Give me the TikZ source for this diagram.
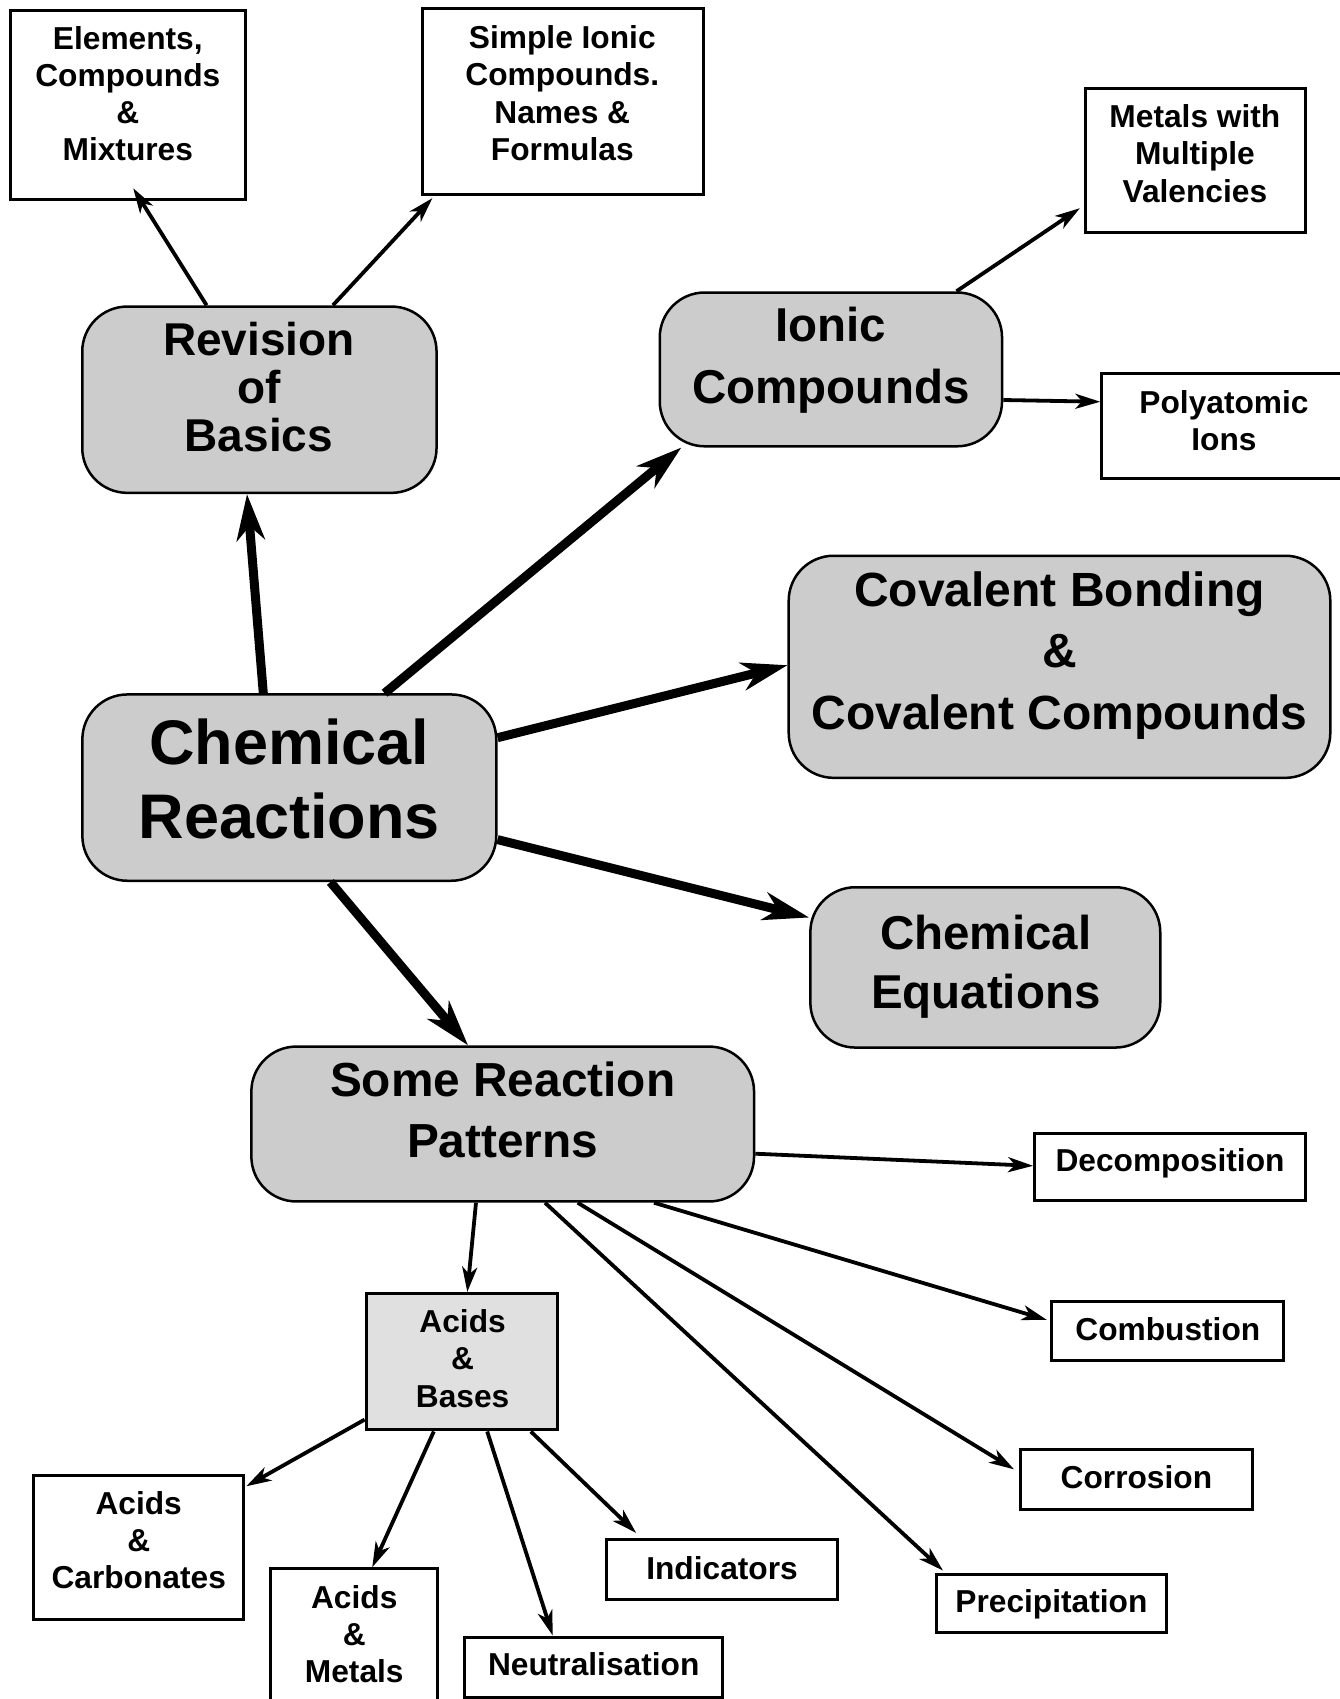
\documentclass[tikz,border=0pt]{standalone}
\usepackage{fontspec}
\setmainfont{Liberation Sans}
\usetikzlibrary{arrows.meta,calc}
\definecolor{boxgray}{gray}{0.8}
\definecolor{lightbox}{gray}{0.88}

\begin{document}
\begin{tikzpicture}[x=1pt,y=-1pt,
  rbox/.style={draw=black, line width=2.5pt, fill=boxgray, rounded corners=45pt, inner sep=0pt},
  sbox/.style={draw=black, line width=3pt, fill=white, inner sep=0pt},
  abox/.style={sbox, fill=lightbox},
  txt/.style 2 args={align=center, inner sep=0pt, font=\bfseries\fontsize{#1}{#2}\selectfont},
  small/.style={txt={31.7}{37.2}},
  bigarrow/.style={line width=9pt, -{Stealth[length=46pt,width=28pt,inset=14pt]}},
  thinarrow/.style={line width=3.8pt, -{Stealth[length=25pt,width=15pt,inset=7pt]}},
]
\useasboundingbox (0,0) rectangle (1339,1699);

% ---- main topic boxes
\node[rbox, minimum width=413.9pt, minimum height=186.3pt] (cr)    at (289.3,787.6) {};
\node[rbox, minimum width=354.3pt, minimum height=186.3pt] (rev)   at (259.4,399.7) {};
\node[rbox, minimum width=342.3pt, minimum height=153.8pt] (ionic) at (830.9,369.4) {};
\node[rbox, minimum width=541.6pt, minimum height=222.1pt] (cov)   at (1059.5,666.8) {};
\node[rbox, minimum width=349.9pt, minimum height=160.3pt] (eq)    at (985.3,967.4) {};
\node[rbox, minimum width=502.7pt, minimum height=154.9pt] (pat)   at (502.7,1124) {};

\node[txt={63}{73.7}]   (cr-t)    at (289.2,778.9) {Chemical\\Reactions};
\node[txt={46}{48}]     (rev-t)   at (258.9,387.3) {Revision\\of\\Basics};
\node[txt={47.5}{61.75}] (ionic-t) at (830.9,360.4) {Ionic\\Compounds};
\node[txt={48}{61.75}]  (cov-t)   at (1059.5,655.5) {Covalent Bonding\\\&\\Covalent Compounds};
\node[txt={47.5}{58.5}] (eq-t)    at (985.8,966.5) {Chemical\\Equations};
\node[txt={47.8}{61.75}] (pat-t)  at (502.7,1109.9) {Some Reaction\\Patterns};

% ---- sub-topic boxes
\node[sbox, minimum width=235pt,   minimum height=188.5pt] (elem)  at (128.4,105) {};
\node[sbox, minimum width=280.6pt, minimum height=186.3pt] (simp)  at (562.8,101.8) {};
\node[sbox, minimum width=220pt,   minimum height=144pt]   (metal) at (1195.4,160.9) {};
\node[sbox, minimum width=243.2pt, minimum height=105pt]   (poly)  at (1223.4,426.25) {};
\node[sbox, minimum width=270.8pt, minimum height=67.1pt]  (dec)   at (1170,1166.8) {};
\node[sbox, minimum width=231.8pt, minimum height=59.6pt]  (comb)  at (1167.8,1330.9) {};
\node[sbox, minimum width=231.8pt, minimum height=59.6pt]  (corr)  at (1136.4,1479.3) {};
\node[sbox, minimum width=230.8pt, minimum height=58.5pt]  (prec)  at (1051.4,1603.3) {};
\node[sbox, minimum width=230.7pt, minimum height=59.6pt]  (ind)   at (722,1569.2) {};
\node[sbox, minimum width=257.8pt, minimum height=60pt]    (neut)  at (593.7,1667) {};
\node[sbox, minimum width=166.9pt, minimum height=141.3pt] (am)    at (354.25,1639.35) {};
\node[sbox, minimum width=210.2pt, minimum height=144.1pt] (ac)    at (138.7,1547.5) {};
\node[abox, minimum width=191.7pt, minimum height=136.5pt] (ab)    at (462,1361.7) {};

\node[small] (elem-t)  at (127.8,93.7)   {Elements,\\Compounds\\\&\\Mixtures};
\node[small] (simp-t)  at (562.3,93.2)   {Simple Ionic\\Compounds.\\Names \&\\Formulas};
\node[small] (metal-t) at (1194.9,153.5) {Metals with\\Multiple\\Valencies};
\node[small] (poly-t)  at (1224,420.3)   {Polyatomic\\Ions};
\node[small] (dec-t)   at (1170,1163.6)  {Decomposition};
\node[small] (comb-t)  at (1167.8,1329.3) {Combustion};
\node[small] (corr-t)  at (1136.4,1477.6) {Corrosion};
\node[small] (prec-t)  at (1051.4,1604.5) {Precipitation};
\node[small] (ind-t)   at (722,1568.6)   {Indicators};
\node[small] (neut-t)  at (593.7,1664)   {Neutralisation};
\node[small] (am-t)    at (354.25,1634.2) {Acids\\\&\\Metals};
\node[small] (ac-t)    at (138.7,1539.9) {Acids\\\&\\Carbonates};
\node[small] (ab-t)    at (462.6,1358.5) {Acids\\\&\\Bases};

% ---- thick connectors from the central topic
\draw[bigarrow] ($(cr.north)+(-26,0)$) -- ($(rev.south)+(-12.4,0)$);
\draw[bigarrow] ($(cr.north)+(95.3,0)$) -- ($(ionic.south west)+(22.8,0)$);
\draw[bigarrow] ($(cr.east)+(0,-49.9)$) -- ($(cov.west)+(0,-1.6)$);
\draw[bigarrow] ($(cr.east)+(0,52)$) -- ($(eq.north west)+(0,31.5)$);
\draw[bigarrow] ($(cr.south)+(41.1,0)$) -- ($(pat.north)+(-34.7,0)$);

% ---- thin connectors
\draw[thinarrow] ($(rev.north)+(-52.8,0)$) -- ($(elem.south)+(4.8,-12.5)$);
\draw[thinarrow] ($(rev.north)+(73.5,0)$) -- ($(simp.south west)+(11.4,1.7)$);
\draw[thinarrow] ($(ionic.north)+(125.6,0)$) -- ($(metal.south west)+(-4,-26.2)$);
\draw[thinarrow] ($(ionic.east)+(0,30.6)$) -- ($(poly.west)+(0,-24.5)$);

\draw[thinarrow] ($(pat.east)+(0,29.7)$) -- ($(dec.west)+(0,-1)$);
\draw[thinarrow] ($(pat.south)+(151.3,0)$) -- ($(comb.west)+(-3.5,-11)$);
\draw[thinarrow] ($(pat.south)+(75,0)$) -- ($(corr.west)+(-5,-10)$);
\draw[thinarrow] ($(pat.south)+(42.3,0)$) -- ($(prec.north west)+(8.5,-2)$);
\draw[thinarrow] ($(pat.south)+(-26.7,0)$) -- ($(ab.north)+(5.3,0)$);

\draw[thinarrow] ($(ab.west)+(0,57.9)$) -- ($(ac.north east)+(1,12.3)$);
\draw[thinarrow] ($(ab.south)+(-28.2,0)$) -- ($(am.north)+(18,0)$);
\draw[thinarrow] ($(ab.south)+(25.2,0)$) -- ($(neut.north)+(-41,0)$);
\draw[thinarrow] ($(ab.south)+(68.8,0)$) -- ($(ind.north west)+(31,-5)$);
\end{tikzpicture}
\end{document}
